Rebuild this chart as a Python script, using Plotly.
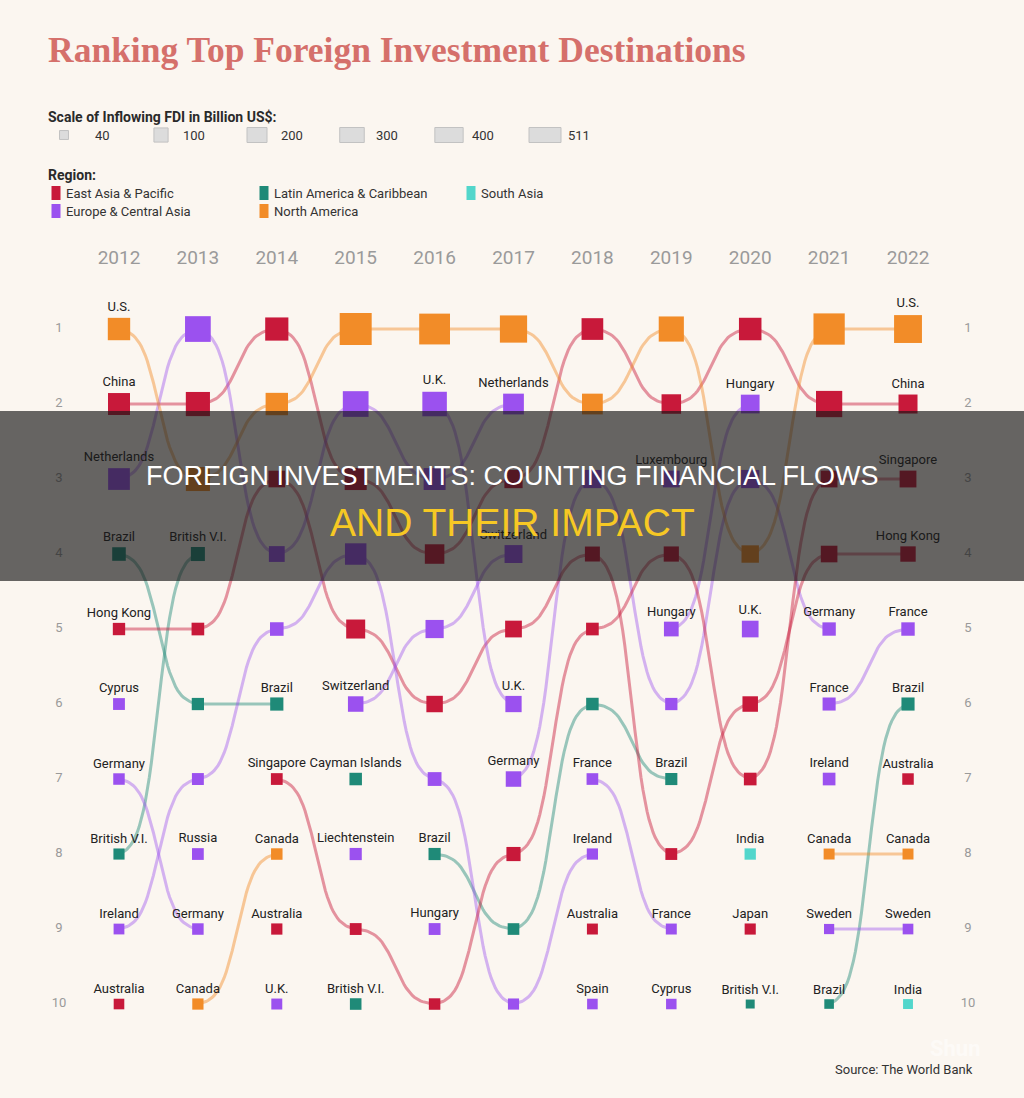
import numpy as np
import plotly.graph_objects as go

# ---------------- data ----------------
years = [2012, 2013, 2014, 2015, 2016, 2017, 2018, 2019, 2020, 2021, 2022]

rank_2012 = ["U.S.", "China", "Netherlands", "Brazil", "Hong Kong", "Cyprus", "Germany", "British V.I.", "Ireland", "Australia"]
rank_2013 = ["Netherlands", "China", "U.S.", "British V.I.", "Hong Kong", "Brazil", "Ireland", "Russia", "Germany", "Canada"]
rank_2014 = ["China", "U.S.", "Hong Kong", "Netherlands", "Ireland", "Brazil", "Singapore", "Canada", "Australia", "U.K."]
rank_2015 = ["U.S.", "Netherlands", "China", "Ireland", "Hong Kong", "Switzerland", "Cayman Islands", "Liechtenstein", "Singapore", "British V.I."]
rank_2016 = ["U.S.", "U.K.", "Netherlands", "China", "Switzerland", "Hong Kong", "Ireland", "Brazil", "Hungary", "Singapore"]
rank_2017 = ["U.S.", "Netherlands", "China", "Switzerland", "Hong Kong", "U.K.", "Germany", "Singapore", "Brazil", "Ireland"]
rank_2018 = ["China", "U.S.", "Germany", "Hong Kong", "Singapore", "Brazil", "France", "Ireland", "Australia", "Spain"]
rank_2019 = ["U.S.", "China", "Luxembourg", "Singapore", "Hungary", "Germany", "Brazil", "Hong Kong", "France", "Cyprus"]
rank_2020 = ["China", "Hungary", "Germany", "U.S.", "U.K.", "Hong Kong", "Singapore", "India", "Japan", "British V.I."]
rank_2021 = ["U.S.", "China", "Singapore", "Hong Kong", "Germany", "France", "Ireland", "Canada", "Sweden", "Brazil"]
rank_2022 = ["U.S.", "China", "Singapore", "Hong Kong", "France", "Brazil", "Australia", "Canada", "Sweden", "India"]

# inflowing FDI, billion US$ (estimated from square sizes)
fdi_2012 = [250, 241, 236, 92, 76, 70, 66, 62, 58, 56]
fdi_2013 = [330, 291, 288, 98, 80, 75, 71, 69, 66, 63]
fdi_2014 = [268, 250, 138, 125, 92, 87, 69, 66, 63, 60]
fdi_2015 = [511, 330, 242, 230, 180, 120, 78, 74, 70, 67]
fdi_2016 = [474, 300, 240, 190, 165, 135, 95, 74, 70, 66]
fdi_2017 = [370, 215, 166, 160, 140, 132, 120, 100, 68, 62]
fdi_2018 = [235, 215, 165, 112, 80, 78, 68, 63, 60, 56]
fdi_2019 = [316, 190, 140, 115, 108, 75, 73, 70, 60, 55]
fdi_2020 = [253, 175, 165, 151, 139, 120, 80, 64, 62, 40]
fdi_2021 = [488, 344, 140, 138, 89, 85, 80, 60, 52, 46]
fdi_2022 = [388, 180, 141, 118, 90, 86, 66, 60, 57, 49]

# ranks whose country name is printed above the square
labels_2012 = [1, 2, 3, 4, 5, 6, 7, 8, 9, 10]
labels_2013 = [4, 8, 9, 10]
labels_2014 = [6, 7, 8, 9, 10]
labels_2015 = [6, 7, 8, 10]
labels_2016 = [2, 8, 9]
labels_2017 = [2, 4, 6, 7]
labels_2018 = [7, 8, 9, 10]
labels_2019 = [3, 5, 7, 9, 10]
labels_2020 = [2, 5, 8, 9, 10]
labels_2021 = [5, 6, 7, 8, 9, 10]
labels_2022 = [1, 2, 3, 4, 5, 6, 7, 8, 9, 10]

rankings = [rank_2012, rank_2013, rank_2014, rank_2015, rank_2016, rank_2017,
            rank_2018, rank_2019, rank_2020, rank_2021, rank_2022]
fdi_values = [fdi_2012, fdi_2013, fdi_2014, fdi_2015, fdi_2016, fdi_2017,
              fdi_2018, fdi_2019, fdi_2020, fdi_2021, fdi_2022]
labelled = [labels_2012, labels_2013, labels_2014, labels_2015, labels_2016, labels_2017,
            labels_2018, labels_2019, labels_2020, labels_2021, labels_2022]

regions = ["East Asia & Pacific", "Latin America & Caribbean", "South Asia",
           "Europe & Central Asia", "North America"]
region_colors = ["#C8193A", "#1F8A78", "#52D6CB", "#9B51EF", "#F28C28"]
region_line_colors = ["rgba(200,25,58,0.45)", "rgba(31,138,120,0.45)", "rgba(82,214,203,0.45)",
                      "rgba(155,81,239,0.42)", "rgba(242,140,40,0.45)"]

country_region = {
    "U.S.": "North America", "Canada": "North America",
    "China": "East Asia & Pacific", "Hong Kong": "East Asia & Pacific",
    "Singapore": "East Asia & Pacific", "Australia": "East Asia & Pacific",
    "Japan": "East Asia & Pacific",
    "Netherlands": "Europe & Central Asia", "Cyprus": "Europe & Central Asia",
    "Germany": "Europe & Central Asia", "Ireland": "Europe & Central Asia",
    "Russia": "Europe & Central Asia", "U.K.": "Europe & Central Asia",
    "Switzerland": "Europe & Central Asia", "Liechtenstein": "Europe & Central Asia",
    "Hungary": "Europe & Central Asia", "Luxembourg": "Europe & Central Asia",
    "France": "Europe & Central Asia", "Spain": "Europe & Central Asia",
    "Sweden": "Europe & Central Asia",
    "Brazil": "Latin America & Caribbean", "British V.I.": "Latin America & Caribbean",
    "Cayman Islands": "Latin America & Caribbean",
    "India": "South Asia",
}

scale_values = [40, 100, 200, 300, 400, 511]
rank_ticks = list(range(1, 11))

# ---------------- styling helpers ----------------
BG = "#FBF6F0"
MAX_SIDE = 32.0
MAX_VAL = 511.0
SANS = "Roboto, Liberation Sans, sans-serif"


def side(v):
    return MAX_SIDE * np.sqrt(v / MAX_VAL)


def color_of(country):
    return region_colors[regions.index(country_region[country])]


def line_color_of(country):
    return region_line_colors[regions.index(country_region[country])]


X0, X1 = 2010.492, 2023.470   # x range (full width 1024)
Y0, Y1 = 11.253, -3.387       # y range (reversed, full height 1098)

fig = go.Figure()

# ---------------- connecting curves ----------------
countries = sorted(country_region.keys())
t = np.linspace(0, 1, 40)
k = 9.0
sig = 1 / (1 + np.exp(-k * (t - 0.5)))
sig = (sig - sig[0]) / (sig[-1] - sig[0])

for c in countries:
    pts = []
    for yi, yr in enumerate(years):
        if c in rankings[yi]:
            pts.append((yr, rankings[yi].index(c) + 1))
    xs, ys = [], []
    for (ya, ra), (yb, rb) in zip(pts[:-1], pts[1:]):
        if yb - ya == 1:
            xs += list(ya + t) + [None]
            ys += list(ra + (rb - ra) * sig) + [None]
    if xs:
        fig.add_trace(go.Scatter(x=xs, y=ys, mode="lines",
                                 line=dict(color=line_color_of(c), width=3),
                                 hoverinfo="skip", showlegend=False))

# ---------------- squares ----------------
mx, my, ms, mc, mt = [], [], [], [], []
for yi, yr in enumerate(years):
    for ri, c in enumerate(rankings[yi]):
        mx.append(yr)
        my.append(ri + 1)
        ms.append(side(fdi_values[yi][ri]))
        mc.append(color_of(c))
        mt.append(c if (ri + 1) in labelled[yi] else "")

fig.add_trace(go.Scatter(
    x=mx, y=my, mode="markers+text", text=mt, textposition="top center",
    textfont=dict(family=SANS, size=13, color="#222222"),
    marker=dict(symbol="square", size=ms, color=mc, opacity=1, line=dict(width=0)),
    hoverinfo="text", showlegend=False))

# year labels
fig.add_trace(go.Scatter(
    x=years, y=[0.067] * len(years), mode="text", text=[str(y) for y in years],
    textfont=dict(family=SANS, size=19, color="#9A9A9A"),
    hoverinfo="skip", showlegend=False))

# rank labels left and right
for xr in (2011.24, 2022.76):
    fig.add_trace(go.Scatter(
        x=[xr] * len(rank_ticks), y=rank_ticks, mode="text",
        text=[str(r) for r in rank_ticks],
        textfont=dict(family=SANS, size=13, color="#9A9A9A"),
        hoverinfo="skip", showlegend=False))

# ---------------- legends (overlay axes in pixel units) ----------------
scale_x = [65, 162, 258, 353, 450, 546]
scale_w = [side(v) for v in scale_values]
scale_h = [min(w, 15.0) for w in scale_w]
fig.add_trace(go.Bar(
    x=scale_x, y=scale_h, base=[135 - h / 2 for h in scale_h], width=scale_w,
    marker=dict(color="#DCDCDC", line=dict(color="#C2C2C2", width=1)),
    xaxis="x2", yaxis="y2", hoverinfo="skip", showlegend=False))

scale_label_x = [93, 181, 279, 374, 470, 566]
for v, lx in zip(scale_values, scale_label_x):
    fig.add_annotation(x=lx, y=135, xref="x2", yref="y2", text=str(v), showarrow=False,
                       xanchor="left", yanchor="middle",
                       font=dict(family=SANS, size=13, color="#333333"))

reg_x = [55, 263, 470, 55, 263]
reg_y = [193, 193, 193, 211, 211]
fig.add_trace(go.Bar(
    x=reg_x, y=[14] * 5, base=[ry - 7 for ry in reg_y], width=[9] * 5,
    marker=dict(color=region_colors, line=dict(width=0)),
    xaxis="x2", yaxis="y2", hoverinfo="skip", showlegend=False))
for name, rx, ry in zip(regions, reg_x, reg_y):
    fig.add_annotation(x=rx + 9, y=ry, xref="x2", yref="y2", text=name, showarrow=False,
                       xanchor="left", yanchor="middle",
                       font=dict(family=SANS, size=13, color="#333333"))

fig.add_annotation(x=46, y=117, xref="x2", yref="y2", text="<b>Scale of Inflowing FDI in Billion US$:</b>",
                   showarrow=False, xanchor="left", yanchor="middle",
                   font=dict(family=SANS, size=14, color="#2A2A2A"))
fig.add_annotation(x=46, y=175, xref="x2", yref="y2", text="<b>Region:</b>",
                   showarrow=False, xanchor="left", yanchor="middle",
                   font=dict(family=SANS, size=14, color="#2A2A2A"))

# title
fig.add_annotation(x=46, y=50, xref="x2", yref="y2",
                   text="<b>Ranking Top Foreign Investment Destinations</b>",
                   showarrow=False, xanchor="left", yanchor="middle",
                   font=dict(family="Liberation Serif, DejaVu Serif, serif", size=35.5, color="#D5706B"))

# source + watermark
fig.add_annotation(x=975, y=1069, xref="x2", yref="y2", text="Source: The World Bank",
                   showarrow=False, xanchor="right", yanchor="middle",
                   font=dict(family=SANS, size=13, color="#333333"))
fig.add_annotation(x=955, y=1048, xref="x2", yref="y2", text="<b>Shun</b>",
                   showarrow=False, xanchor="center", yanchor="middle", opacity=0.5,
                   font=dict(family=SANS, size=22, color="#FFFFFF"))

# banner overlay
fig.add_shape(type="rect", xref="paper", yref="y2", x0=0, x1=1, y0=411, y1=581,
              fillcolor="rgba(25,25,25,0.66)", line=dict(width=0), layer="above")
fig.add_annotation(x=512, y=476, xref="x2", yref="y2",
                   text="FOREIGN INVESTMENTS: COUNTING FINANCIAL FLOWS",
                   showarrow=False, xanchor="center", yanchor="middle",
                   font=dict(family="Liberation Sans, Arial, sans-serif", size=27, color="#FFFFFF"))
fig.add_annotation(x=512, y=522, xref="x2", yref="y2",
                   text="AND THEIR IMPACT",
                   showarrow=False, xanchor="center", yanchor="middle",
                   font=dict(family="Liberation Sans, Arial, sans-serif", size=39, color="#F6C824"))

fig.update_layout(
    width=1024, height=1098,
    margin=dict(l=0, r=0, t=0, b=0),
    paper_bgcolor=BG, plot_bgcolor=BG,
    xaxis=dict(range=[X0, X1], visible=False, domain=[0, 1], fixedrange=True),
    yaxis=dict(range=[Y0, Y1], visible=False, domain=[0, 1], fixedrange=True),
    xaxis2=dict(range=[0, 1024], visible=False, overlaying="x", anchor="y2", fixedrange=True),
    yaxis2=dict(range=[1098, 0], visible=False, overlaying="y", anchor="x2", fixedrange=True),
    showlegend=False,
)

fig.write_html("out.html", config={"displayModeBar": False},
               post_script="document.body.style.margin='0';document.body.style.background='%s';" % BG)
